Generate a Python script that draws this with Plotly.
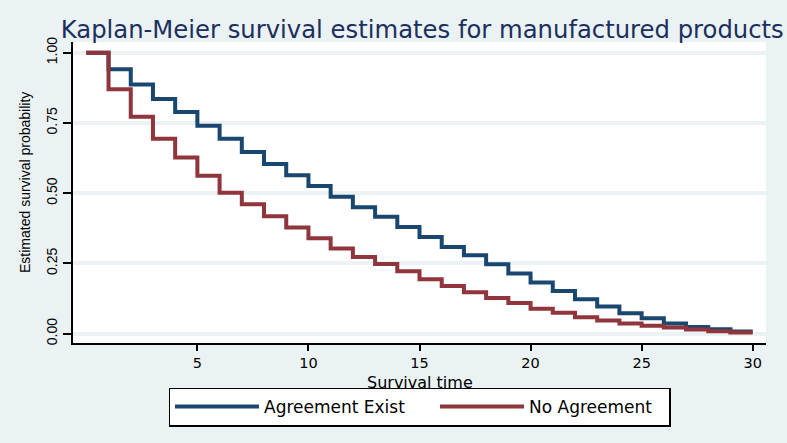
import plotly.graph_objects as go

# Survival time points (start of each step)
times = list(range(0, 31))

# Kaplan-Meier survival estimates
agreement_exist = [1.000, 0.941, 0.887, 0.835, 0.789, 0.740, 0.694, 0.647, 0.604, 0.564,
                   0.526, 0.487, 0.450, 0.416, 0.380, 0.344, 0.309, 0.279, 0.247, 0.214,
                   0.182, 0.152, 0.123, 0.097, 0.073, 0.055, 0.036, 0.024, 0.016, 0.008,
                   0.008]
no_agreement = [1.000, 0.870, 0.772, 0.694, 0.627, 0.562, 0.502, 0.461, 0.418, 0.378,
                0.340, 0.303, 0.273, 0.248, 0.222, 0.194, 0.170, 0.148, 0.127, 0.109,
                0.089, 0.075, 0.059, 0.047, 0.036, 0.028, 0.022, 0.015, 0.009, 0.004,
                0.004]

series_names = ["Agreement Exist", "No Agreement"]
x_ticks = [5, 10, 15, 20, 25, 30]
y_ticks = [0, 0.25, 0.5, 0.75, 1.0]

title_text = "Kaplan-Meier survival estimates for manufactured products"
x_title = "Survival time"
y_title = "Estimated survival probability"

BG = "#eaf2f3"
NAVY = "#1a476f"
MAROON = "#90353b"

fig = go.Figure()
fig.add_trace(go.Scatter(x=times, y=agreement_exist, mode="lines", line_shape="hv",
                         name=series_names[0], line=dict(color=NAVY, width=4),
                         legendwidth=166))
fig.add_trace(go.Scatter(x=times, y=no_agreement, mode="lines", line_shape="hv",
                         name=series_names[1], line=dict(color=MAROON, width=4),
                         legendwidth=135))

fig.update_layout(
    width=787, height=443,
    paper_bgcolor=BG, plot_bgcolor="white",
    margin=dict(l=73, r=21, t=42, b=100, pad=0, autoexpand=False),
    title=dict(text=title_text, x=0.504, xref="paper", xanchor="center",
               y=1 - 29 / 443, yref="container", yanchor="middle",
               font=dict(family="DejaVu Sans", size=24.3, color="#1c2f5e")),
    showlegend=True,
    legend=dict(orientation="h", x=0.5, xanchor="center", y=-0.148, yanchor="top",
                bgcolor="white", bordercolor="black", borderwidth=1.5,
                font=dict(family="DejaVu Sans", size=17, color="black"),
                itemwidth=84),
    font=dict(family="DejaVu Sans", color="black"),
    annotations=[
        dict(text=x_title, x=0.5, xref="paper", xanchor="center",
             y=-(370.5 - 343) / 301, yref="paper", yanchor="top",
             showarrow=False,
             font=dict(family="DejaVu Sans", size=16, color="black")),
        dict(text=y_title, textangle=-90, x=-(73 - 25) / 693, xref="paper",
             xanchor="center", y=(343 - 183) / 301, yref="paper", yanchor="middle",
             showarrow=False,
             font=dict(family="Liberation Sans", size=14, color="black")),
    ],
)

fig.update_xaxes(
    range=[-0.6, 30.6], tickmode="array", tickvals=x_ticks,
    ticks="outside", ticklen=6, tickwidth=1.5, tickcolor="black",
    showline=True, linecolor="black", linewidth=2, showgrid=False, zeroline=False,
    tickfont=dict(family="DejaVu Sans", size=14.5, color="black"),
)
fig.update_yaxes(
    range=[-0.033, 1.038], tickmode="array", tickvals=y_ticks, tickformat=".2f",
    tickangle=-90,
    ticks="outside", ticklen=8, tickwidth=1.5, tickcolor="black",
    showline=True, linecolor="black", linewidth=2,
    showgrid=True, gridcolor=BG, gridwidth=3.5, zeroline=False,
    tickfont=dict(family="Liberation Sans Narrow, Liberation Sans", size=14, color="black"),
)

fig.write_html("out.html",
               config={"displayModeBar": False},
               post_script="document.body.style.margin='0';"
                           "document.body.style.background='" + BG + "';")
